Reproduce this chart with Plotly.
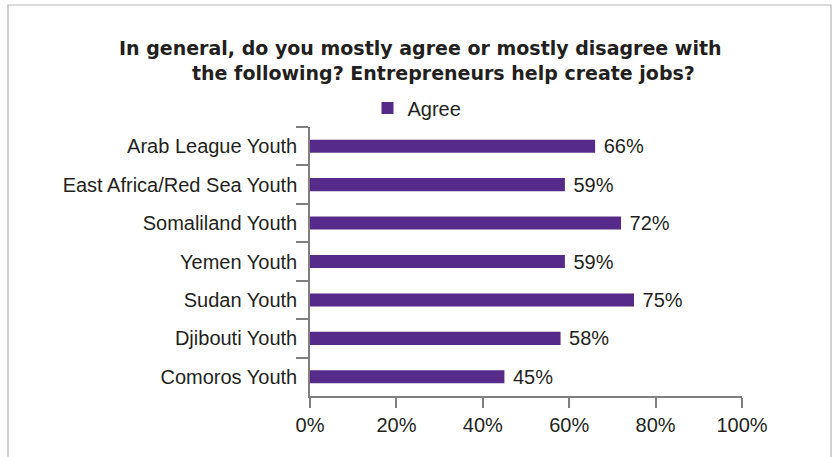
import plotly.graph_objects as go

categories = ["Arab League Youth", "East Africa/Red Sea Youth", "Somaliland Youth",
              "Yemen Youth", "Sudan Youth", "Djibouti Youth", "Comoros Youth"]
agree = [66, 59, 72, 59, 75, 58, 45]
x_ticks = [0, 20, 40, 60, 80, 100]
x_tick_labels = ["0%", "20%", "40%", "60%", "80%", "100%"]
series_name = "Agree"
title_lines = ["In general, do you mostly agree or mostly disagree with",
               "the following? Entrepreneurs help create jobs?"]

W, H = 832, 457
L, R, T, B = 310, 90, 127, 61
pw, ph = W - L - R, H - T - B

def px(p):
    return (p - L) / pw

def py(q):
    return (H - B - q) / ph

FONT = "Liberation Sans, Arial, Helvetica, sans-serif"
TFONT = "DejaVu Sans, Liberation Sans, Arial, sans-serif"
TXT = "#231f20"
BAR = "#552a88"
AX = "#7f7f7f"
FS = 20

fig = go.Figure()
fig.add_trace(go.Bar(
    y=categories, x=agree, orientation="h", name=series_name,
    marker=dict(color=BAR, line=dict(width=0)),
    width=0.34,
    text=[f"\u00a0{v}%" for v in agree], textposition="outside",
    constraintext="none",
    textfont=dict(size=FS, color=TXT, family=FONT),
    cliponaxis=False, showlegend=True, hoverinfo="skip",
))

annotations = []
for line, cx, cy in zip(title_lines, [420, 443], [48, 73]):
    annotations.append(dict(text=f"<b>{line}</b>", xref="paper", yref="paper",
                            x=px(cx), y=py(cy), xanchor="center", yanchor="middle",
                            showarrow=False,
                            font=dict(size=19, color=TXT, family=TFONT)))

fig.update_layout(
    width=W, height=H,
    margin=dict(l=L, r=R, t=T, b=B, autoexpand=False),
    paper_bgcolor="white", plot_bgcolor="white",
    font=dict(family=FONT, color=TXT, size=FS),
    showlegend=True,
    legend=dict(orientation="h", x=px(417), xanchor="center", y=py(108), yanchor="middle",
                font=dict(size=FS, color=TXT, family=FONT),
                bgcolor="rgba(0,0,0,0)", itemwidth=30, traceorder="normal"),
    xaxis=dict(range=[0, 100], tickvals=x_ticks, ticktext=x_tick_labels,
               showgrid=False, zeroline=False, showline=True, linecolor=AX, linewidth=1.5,
               ticks="outside", ticklen=10, tickcolor=AX, tickwidth=1.5, automargin=False,
               tickfont=dict(size=FS, color=TXT, family=FONT)),
    yaxis=dict(categoryorder="array", categoryarray=categories, autorange="reversed",
               showgrid=False, zeroline=False, showline=True, linecolor=AX, linewidth=1.5,
               ticks="outside", ticklen=12, tickcolor=AX, tickwidth=1.5, automargin=False,
               tickson="boundaries", ticklabelstandoff=7,
               tickfont=dict(size=FS, color=TXT, family=FONT)),
    annotations=annotations,
    shapes=[dict(type="rect", xref="paper", yref="paper",
                 x0=px(8), x1=px(831), y0=py(470), y1=py(5),
                 line=dict(color="#b5b5b5", width=1.2), fillcolor="rgba(0,0,0,0)",
                 layer="below")],
)

fig.write_html("out.html",
               config={"displayModeBar": False},
               post_script="document.body.style.margin='0';document.body.style.overflow='hidden';")
